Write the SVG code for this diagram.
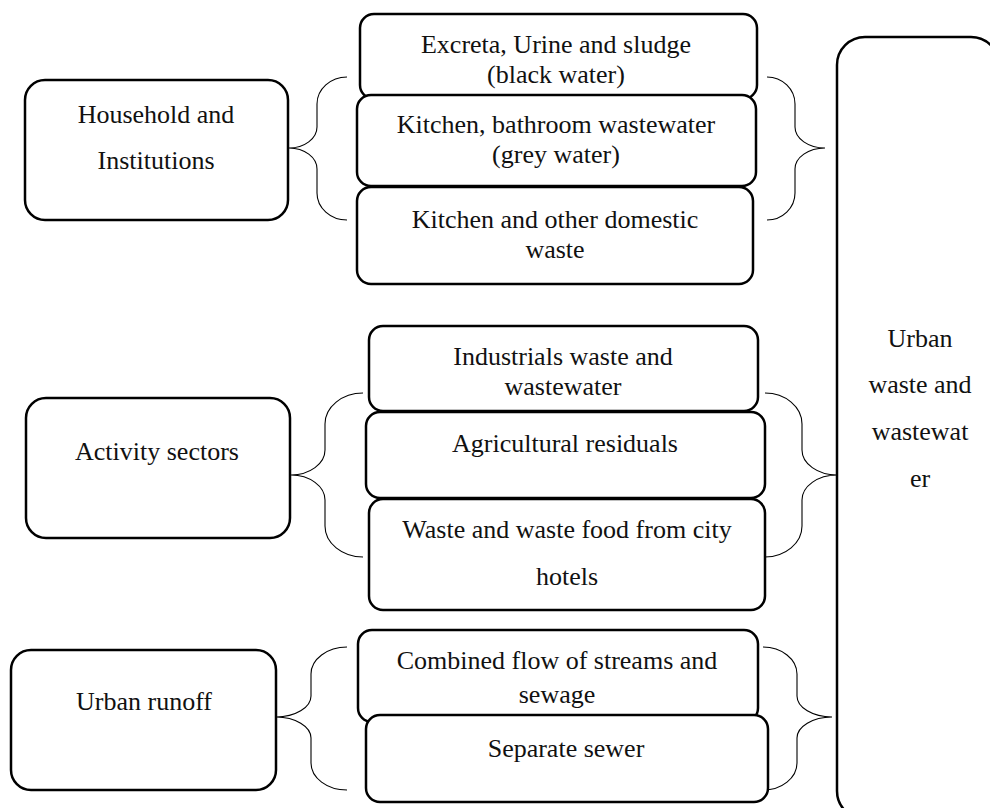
<svg xmlns="http://www.w3.org/2000/svg" width="990" height="808" viewBox="0 0 990 808">
<style>
.box{fill:#fff;stroke:#000;stroke-width:2.5}
.br{fill:none;stroke:#000;stroke-width:1.1}
text{font-family:"Liberation Serif","Times New Roman",serif;font-size:26px;fill:#111;text-anchor:middle}
</style>
<rect width="990" height="808" fill="#fff"/>
<g id="connectors">
<path class="br" d="M347,77 C330.5,77 317,89.2 317,104 L317,127 C317,138.6 304.4,148 289,148 C304.4,148 317,157.4 317,169 L317,193 C317,207.9 330.5,220 347,220"/>
<path class="br" d="M767,77 C782.4,77 795,89.2 795,104 L795,127 C795,138.6 808.5,148 825,148 C808.5,148 795,157.4 795,169 L795,193 C795,207.9 782.4,220 767,220"/>
<path class="br" d="M363,393 C342.1,393 325,406.9 325,424 L325,450 C325,463.75 309.7,475 291,475 C309.7,475 325,486.25 325,500 L325,526 C325,543.05 342.1,557 363,557"/>
<path class="br" d="M765,393 C785.4,393 802,406.9 802,424 L802,450 C802,463.75 817.75,475 837,475 C817.75,475 802,486.25 802,500 L802,526 C802,543.05 785.4,557 765,557"/>
<path class="br" d="M347,647 C327.2,647 311,659.2 311,674 L311,696 C311,707.55 295.25,717 276,717 C295.25,717 311,726.45 311,738 L311,763 C311,777.85 327.2,790 347,790"/>
<path class="br" d="M763,647 C781.7,647 797,659.2 797,674 L797,696 C797,707.55 812.75,717 832,717 C812.75,717 797,726.45 797,738 L797,763 C797,777.85 781.7,790 763,790"/>
</g>
<g id="household">
<rect class="box" x="25" y="80" width="263" height="140" rx="20"/>
<text x="156" y="123">Household and</text>
<text x="156" y="169">Institutions</text>
</g>
<g id="excreta">
<rect class="box" x="360" y="14" width="397" height="85" rx="14"/>
<text x="556" y="53">Excreta, Urine and sludge</text>
<text x="556" y="83">(black water)</text>
</g>
<g id="greywater">
<rect class="box" x="357" y="95" width="399" height="91" rx="14"/>
<text x="556" y="133">Kitchen, bathroom wastewater</text>
<text x="556" y="163">(grey water)</text>
</g>
<g id="domestic">
<rect class="box" x="357" y="187" width="396" height="97" rx="14"/>
<text x="555" y="228">Kitchen and other domestic</text>
<text x="555" y="258">waste</text>
</g>
<g id="activity">
<rect class="box" x="26" y="398" width="264" height="140" rx="20"/>
<text x="157" y="460">Activity sectors</text>
</g>
<g id="industrial">
<rect class="box" x="369" y="326" width="389" height="85" rx="14"/>
<text x="563" y="365">Industrials waste and</text>
<text x="563" y="395">wastewater</text>
</g>
<g id="agricultural">
<rect class="box" x="366" y="412" width="399" height="86" rx="14"/>
<text x="565" y="452">Agricultural residuals</text>
</g>
<g id="hotels">
<rect class="box" x="369" y="499" width="396" height="111" rx="14"/>
<text x="567" y="538">Waste and waste food from city</text>
<text x="567" y="585">hotels</text>
</g>
<g id="runoff">
<rect class="box" x="11" y="650" width="265" height="140" rx="20"/>
<text x="144" y="710">Urban runoff</text>
</g>
<g id="combined">
<rect class="box" x="358" y="630" width="400" height="92" rx="14"/>
<text x="557" y="669">Combined flow of streams and</text>
<text x="557" y="703">sewage</text>
</g>
<g id="separate">
<rect class="box" x="366" y="715" width="402" height="87" rx="14"/>
<text x="566" y="757">Separate sewer</text>
</g>
<g id="urban">
<rect class="box" x="837" y="37" width="162" height="782" rx="28"/>
<text x="920" y="347">Urban</text>
<text x="920" y="393">waste and</text>
<text x="920" y="440">wastewat</text>
<text x="920" y="487">er</text>
</g>
</svg>
